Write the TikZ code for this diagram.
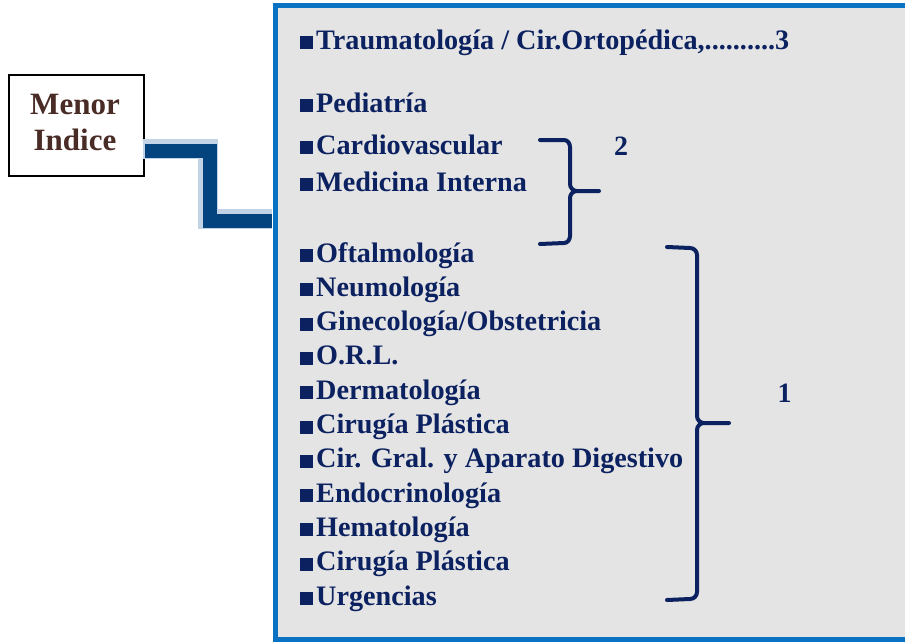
\documentclass[tikz,border=0pt]{standalone}
\usepackage{fontspec}
\setmainfont{Liberation Serif}
\definecolor{navy}{HTML}{0B2160}
\definecolor{panelblue}{HTML}{0A72C2}
\definecolor{panelbg}{HTML}{E4E4E4}
\definecolor{connblue}{HTML}{03447F}
\definecolor{glowblue}{HTML}{C3D3E6}
\definecolor{brownt}{HTML}{4A2C26}
\newcommand\sqb{\rule{13pt}{13pt}\hspace{3pt}}
\tikzset{
  item/.style={anchor=base west, inner sep=0pt, text=navy,
    font=\bfseries\fontsize{28.2}{31}\selectfont},
  numlab/.style={anchor=base, inner sep=0pt, text=navy,
    font=\bfseries\fontsize{28}{30}\selectfont},
  menortxt/.style={anchor=base, inner sep=0pt, text=brownt,
    font=\bfseries\fontsize{31}{34}\selectfont},
  bracestroke/.style={draw=navy, line width=4pt, line cap=round},
  conn/.style={draw=connblue, line width=14pt},
  glow/.style={draw=glowblue, line width=20pt}
}
\begin{document}
\begin{tikzpicture}[x=1pt,y=-1pt]
\useasboundingbox (0,0) rectangle (905,642);
\fill[white] (0,0) rectangle (905,642);
% panel
\fill[panelbg] (277,7) rectangle (905,639);
\draw[panelblue, line width=5pt] (905,5.5) -- (275.5,5.5) -- (275.5,639.5) -- (905,639.5);
% list items
\node[item] (i0) at (300,49) {\sqb Traumatología / Cir.Ortopédica,..........3};
\node[item] (i1) at (300,112) {\sqb Pediatría};
\node[item] (i2) at (300,154) {\sqb Cardiovascular};
\node[item] (i3) at (300,191) {\sqb Medicina Interna};
\node[item] (i4) at (300,262) {\sqb Oftalmología};
\node[item] (i5) at (300,296.3) {\sqb Neumología};
\node[item] (i6) at (300,330.6) {\sqb Ginecología/Obstetricia};
\node[item] (i7) at (300,364.9) {\sqb O.R.L.};
\node[item] (i8) at (300,399.2) {\sqb Dermatología};
\node[item] (i9) at (300,433.5) {\sqb Cirugía Plástica};
\node[item] (i10) at (300,467.8) {\sqb Cir. Gral. y Aparato Digestivo};
\node[item] (i11) at (300,502.1) {\sqb Endocrinología};
\node[item] (i12) at (300,536.4) {\sqb Hematología};
\node[item] (i13) at (300,570.7) {\sqb Cirugía Plástica};
\node[item] (i14) at (300,605) {\sqb Urgencias};
% braces
\draw[bracestroke] (540,140) -- (564,140) to[out=0,in=90] (570,147) -- (570,184) to[out=-90,in=180] (577,191) -- (599,191);
\draw[bracestroke] (577,191) to[out=180,in=90] (570,198) -- (570,236) to[out=-90,in=0] (564,243) -- (540,244);
\node[numlab] (n2) at (621,155) {2};
\draw[bracestroke] (667,247) -- (690,248) to[out=0,in=90] (697,255) -- (697,416) to[out=-90,in=180] (704,423) -- (729,423);
\draw[bracestroke] (704,423) to[out=180,in=90] (697,430) -- (697,592) to[out=-90,in=0] (690,599) -- (667,600);
\node[numlab] (n1) at (784.5,402) {1};
% menor indice box
\node[draw=black, line width=1.5pt, minimum width=135pt, minimum height=101pt, inner sep=0pt] (menor) at (76.5,125.5) {};
\node[menortxt] (m1) at (75,114) {Menor};
\node[menortxt] (m2) at (75,150) {Indice};
% connector
\coordinate (pin) at (272,221);
\draw[glow] ([xshift=-2pt,yshift=28pt]menor.south east) -| (208,219) -- ([yshift=2pt]pin);
\draw[conn] ([yshift=26pt]menor.south east) -| (210,221) -- (pin);
\end{tikzpicture}
\end{document}
